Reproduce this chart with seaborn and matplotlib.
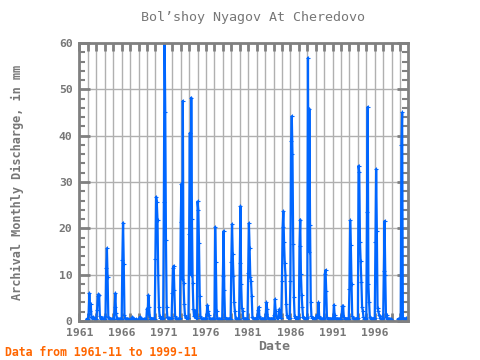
import numpy as np
import pandas as pd
import matplotlib
matplotlib.use('Agg')
import matplotlib.pyplot as plt
import seaborn as sns
from matplotlib.ticker import MultipleLocator

nan = np.nan

# monthly discharge (Jan..Dec; 1961 starts Nov, 1999 ends Nov)
y1961 = [0.4, 0.3]
y1962 = [0.4, 1.5, 6.0, 2.2, 3.7, 0.9, 0.6, 0.8, 0.6, 0.5, 0.4, 0.4]
y1963 = [0.4, 2.4, 5.3, 5.8, 5.6, 1.0, 0.6, 0.5, 0.7, 0.5, 0.4, 0.4]
y1964 = [0.4, 1.0, 11.4, 15.7, 9.4, 0.8, 0.6, 0.5, 0.5, 0.4, 0.4, 0.4]
y1965 = [0.4, 0.5, 3.1, 6.0, 1.8, 0.7, 0.5, 0.4, 0.5, 0.4, 0.4, 0.3]
y1966 = [0.4, 13.2, 21.2, 12.2, 1.2, 0.6, 0.5, 0.5, 0.4, 0.4, 0.3, 0.3]
y1967 = [0.3, 0.3, 0.4, 0.8, 0.6, 0.4, 0.3, 0.3, 0.4, 0.3, 0.3, 0.3]
y1968 = [0.3, 0.4, 0.9, 0.6, 0.4, 0.3, 0.3, 0.3, 0.5, 0.4, 0.3, 0.3]
y1969 = [2.7, 1.5, 5.6, 3.1, 0.8, 0.5, 0.4, 0.4, 0.5, 0.4, 0.4, 0.5]
y1970 = [13.4, 26.8, 25.6, 21.8, 9.9, 3.1, 1.0, 0.7, 0.6, 0.5, 0.5, 0.6]
y1971 = [25.6, 63.0, 45.2, 17.5, 3.1, 0.8, 0.6, 0.6, 0.5, 0.5, 0.6, 0.6]
y1972 = [6.0, 11.5, 11.9, 6.6, 1.0, 0.6, 0.5, 0.5, 0.5, 0.5, 0.5, 0.6]
y1973 = [21.3, 29.6, 9.0, 47.5, 8.3, 3.7, 1.2, 0.8, 0.6, 0.6, 0.6, 0.7]
y1974 = [18.7, 40.6, 10.0, 48.2, 22.0, 8.3, 2.6, 1.0, 2.2, 1.0, 0.6, 0.6]
y1975 = [25.8, 24.0, 16.8, 5.5, 1.0, 0.6, 0.5, 0.5, 0.5, 0.5, 0.5, 0.5]
y1976 = [0.6, 1.5, 3.4, 2.2, 1.3, 0.5, 0.4, 0.4, 0.4, 0.4, 0.4, 0.4]
y1977 = [0.5, 20.3, 12.7, 2.2, 0.6, 0.5, 0.4, 0.4, 0.4, 0.4, 0.4, 0.4]
y1978 = [9.7, 19.4, 6.8, 0.8, 0.5, 0.5, 0.4, 0.4, 0.5, 0.5, 0.5, 0.5]
y1979 = [12.8, 20.9, 14.4, 9.7, 4.0, 2.2, 0.7, 0.5, 0.5, 0.5, 0.5, 0.5]
y1980 = [12.6, 24.8, 7.9, 2.9, 2.2, 0.6, 0.5, 0.5, 0.5, 0.5, 0.5, 0.5]
y1981 = [10.4, 21.1, 15.8, 9.4, 8.6, 5.3, 0.8, 0.6, 0.5, 0.5, 0.5, 0.5]
y1982 = [0.5, 0.8, 2.4, 3.0, 1.0, 0.6, 0.5, 0.5, 0.5, 0.5, 0.5, 0.5]
y1983 = [0.5, 1.5, 4.0, 2.5, 0.7, 0.5, 0.5, 0.5, 0.5, 0.5, 0.5, 0.5]
y1984 = [0.5, 1.2, 4.7, 2.2, 1.0, 0.6, 0.6, 0.8, 2.5, 1.3, 0.6, 0.6]
y1985 = [8.6, 20.2, 23.7, 17.0, 12.5, 10.0, 3.7, 1.2, 0.8, 0.6, 0.6, 0.6]
y1986 = [8.6, 38.8, 44.2, 36.0, 16.6, 5.2, 1.0, 0.7, 0.6, 0.6, 0.6, 0.6]
y1987 = [0.8, 16.1, 21.9, 10.2, 5.7, 3.0, 0.8, 0.6, 0.6, 0.5, 0.5, 0.6]
y1988 = [0.8, 56.8, 15.0, 45.8, 20.7, 4.0, 1.0, 0.7, 0.6, 0.5, 0.5, 0.6]
y1989 = [0.7, 0.8, 1.3, 0.8, 4.0, 1.0, 0.6, 0.5, 0.5, 0.5, 0.5, 0.5]
y1990 = [0.6, 10.2, 11.0, 6.5, 0.8, 0.5, 0.5, 0.5, 0.5, 0.5, 0.5, 0.5]
y1991 = [0.5, 0.6, 3.5, 1.2, 0.6, 0.5, 0.5, 0.5, 0.5, 0.5, 0.5, 0.5]
y1992 = [0.5, 1.4, 3.2, 3.3, 0.8, 0.5, 0.5, 0.5, 0.5, 0.5, 0.5, 0.5]
y1993 = [7.0, 21.7, 16.5, 8.0, 1.0, 0.6, 0.5, 0.5, 0.5, 0.5, 0.5, 0.5]
y1994 = [0.6, 33.5, 32.2, 17.0, 13.0, 8.4, 3.0, 2.2, 0.8, 0.5, 0.5, 0.5]
y1995 = [0.6, 23.5, 46.2, 7.9, 4.0, 0.8, 0.6, 0.5, 0.5, 0.5, 0.5, 0.5]
y1996 = [0.6, 17.0, 32.8, 19.5, 2.8, 2.2, 1.4, 1.1, 0.6, 0.5, 0.5, 0.5]
y1997 = [0.6, 10.8, 21.6, 10.0, 0.8, 1.4, 0.5, 0.4, 0.4, 0.4, 0.4, 0.4]
y1998 = [0.3, nan, nan, nan, nan, nan, nan, nan, nan, 0.4, 0.4, 0.4]
y1999 = [0.4, 0.5, 38.0, 45.0, 0.5, 0.5, 0.5, 0.5, 0.5, 0.6, 0.5]

years = [y1961, y1962, y1963, y1964, y1965, y1966, y1967, y1968, y1969,
         y1970, y1971, y1972, y1973, y1974, y1975, y1976, y1977, y1978,
         y1979, y1980, y1981, y1982, y1983, y1984, y1985, y1986, y1987,
         y1988, y1989, y1990, y1991, y1992, y1993, y1994, y1995, y1996,
         y1997, y1998, y1999]
values = np.concatenate([np.array(v, dtype=float) for v in years])

months = pd.period_range('1961-11', '1999-11', freq='M')
df = pd.DataFrame({
    't': months.year + (months.month - 1) / 12.0,
    'q': values,
})
# split the line where months are missing
df['seg'] = df['q'].isna().cumsum()
df = df.dropna()

grey = '#808080'
text_grey = '#777777'
blue = '#0066ff'
mono = 'DejaVu Sans Mono'

fig = plt.figure(figsize=(4.8, 3.6), dpi=100)
ax = fig.add_axes([0.1656, 0.1083, 0.6854, 0.7723])

sns.lineplot(data=df, x='t', y='q', units='seg', estimator=None, sort=False,
             color=blue, linewidth=1.6, marker='+', markersize=3,
             markeredgewidth=0.8, markeredgecolor=blue, legend=False, ax=ax)

ax.set_xlim(1961, 2000)
ax.set_ylim(0, 60)

year_ticks = list(range(1961, 2000))
ax.set_xticks(year_ticks)
ax.set_xticklabels([str(y) if (y - 1961) % 5 == 0 else '' for y in year_ticks])
ax.yaxis.set_major_locator(MultipleLocator(10))
ax.yaxis.set_minor_locator(MultipleLocator(2))

ax.grid(True, which='major', color='#b0b0b0', linewidth=1.0)
ax.set_axisbelow(True)

for s in ax.spines.values():
    s.set_color(grey)
    s.set_linewidth(2)

ax.tick_params(axis='x', which='major', direction='in', length=6, width=2,
               color=grey, top=True, bottom=True, pad=5,
               labelcolor=text_grey, labelsize=8.2)
ax.tick_params(axis='y', which='major', direction='in', length=8, width=2,
               color=grey, left=True, right=True, pad=5,
               labelcolor=text_grey, labelsize=8.2)
ax.tick_params(axis='y', which='minor', direction='in', length=4, width=1.5,
               color=grey, left=True, right=True)
for lab in ax.get_xticklabels() + ax.get_yticklabels():
    lab.set_fontfamily(mono)
    lab.set_fontweight('bold')

ax.set_xlabel('')
ax.set_ylabel('')

fig.text(253 / 480, 1 - 18 / 360, 'Bol\u2019shoy Nyagov At Cheredovo',
         ha='center', va='center', fontsize=9.6, color=text_grey, family=mono)
fig.text(274 / 480, 1 - 347 / 360, 'Date', ha='center', va='center',
         fontsize=9.5, fontweight='bold', color=text_grey, family=mono)
fig.text(17 / 480, 1 - 182 / 360, 'Archival Monthly Discharge, in mm',
         ha='center', va='center', rotation=90, fontsize=8.6,
         fontweight='bold', color=text_grey, family=mono)
fig.text(5 / 480, 1 - 352 / 360, 'Data from 1961-11 to 1999-11',
         ha='left', va='center', fontsize=8.3, fontweight='bold',
         color='#ff6600', family=mono)

fig.savefig('out.png', dpi=100)
